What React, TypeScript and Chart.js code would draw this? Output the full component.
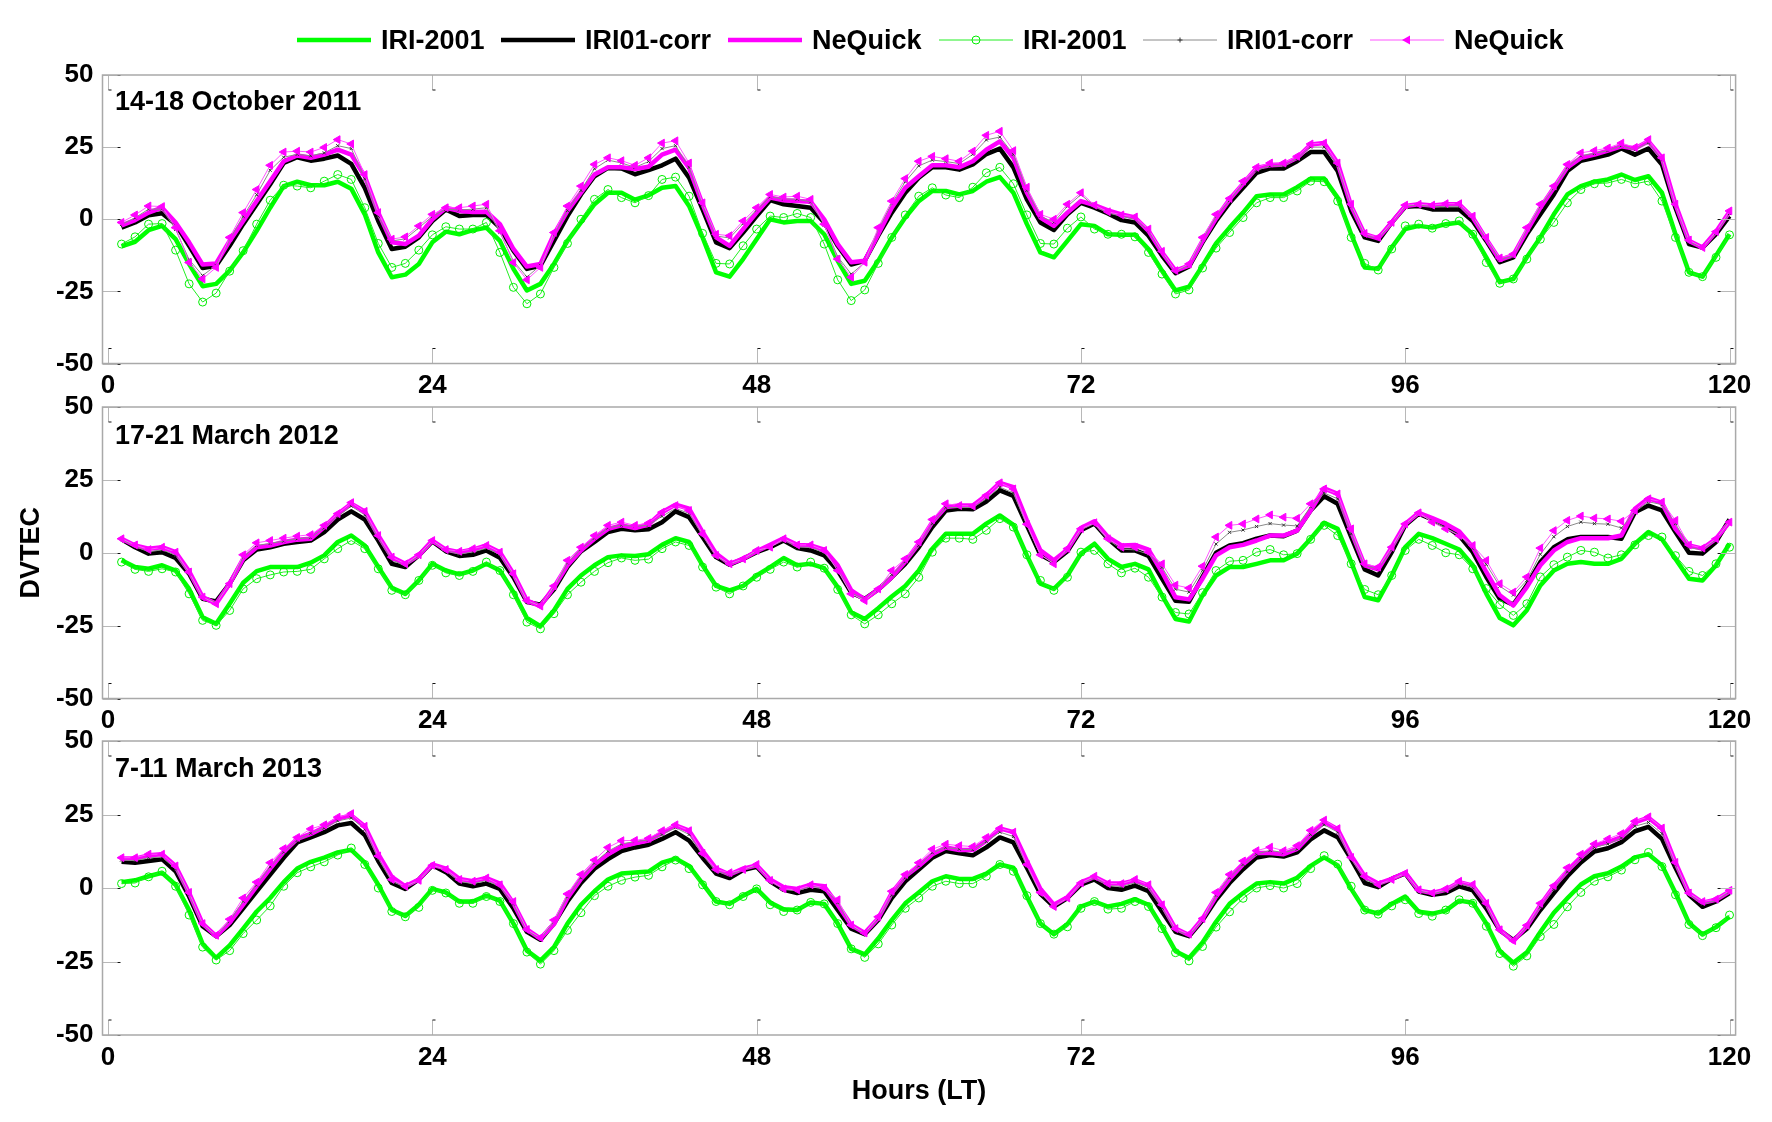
import React, { useEffect, useRef } from 'react';
import { Chart, registerables } from 'chart.js';

Chart.register(...registerables);

// ---------------- DATA ----------------
const HOURS: number[] = Array.from({ length: 120 }, (_, i) => i + 1);
const X_TICKS = [0, 24, 48, 72, 96, 120];
const Y_TICKS = [-50, -25, 0, 25, 50];
const SERIES_NAMES = ['IRI-2001', 'IRI01-corr', 'NeQuick', 'IRI-2001', 'IRI01-corr', 'NeQuick'];
const PANEL_TITLES = ['14-18 October 2011', '17-21 March 2012', '7-11 March 2013'];

// Panel 1: 14-18 October 2011
const P1_IRI = [
  -9.4, -7.8, -3.8, -2.3, -6.9, -15.5, -23.2, -22.4, -17.8, -11.5,
  -4.0, 4.0, 11.5, 13.0, 11.8, 11.8, 13.0, 10.6, 1.7, -11.5,
  -20.1, -19.2, -15.5, -8.0, -4.3, -5.2, -3.8, -2.9, -7.5, -17.2,
  -24.7, -22.4, -15.5, -7.5, -1.1, 5.2, 9.2, 9.2, 6.8, 8.3,
  10.9, 11.5, 4.6, -6.3, -18.4, -19.9, -13.8, -6.9, 0, -1.1,
  -0.6, -0.6, -5.2, -14.4, -22.4, -21.3, -14.4, -6.3, 0.6, 6.3,
  9.8, 9.8, 8.6, 9.8, 13.0, 14.6, 9.2, -1.7, -11.5, -13.2,
  -7.5, -1.7, -2.3, -5.2, -5.4, -5.4, -10.3, -17.8, -24.7, -23.4,
  -16.1, -8.4, -2.9, 2.3, 8.0, 8.6, 8.6, 11.1, 14.1, 14.1,
  7.5, -5.2, -16.7, -17.2, -9.8, -3.4, -2.3, -2.9, -1.7, -1.1,
  -5.2, -13.2, -21.8, -20.7, -13.2, -6.3, 1.7, 8.6, 11.5, 13.0,
  13.8, 15.5, 13.6, 14.9, 9.2, -5.2, -18.4, -19.9, -12.6, -5.2,
];
const P1_CORR = [
  -2.9, -1.1, 1.4, 2.1, -1.7, -9.2, -16.9, -16.1, -9.2, -1.7,
  5.2, 12.1, 19.5, 21.5, 20.3, 21.0, 22.1, 19.2, 10.9, -0.6,
  -10.3, -9.5, -6.3, -0.6, 3.4, 1.1, 1.5, 1.5, -2.9, -10.9,
  -17.2, -16.1, -7.5, 1.1, 8.6, 14.9, 17.8, 17.6, 15.6, 17.0,
  18.7, 21.0, 14.4, 3.4, -8.0, -10.0, -4.6, 1.1, 6.6, 5.2,
  4.6, 4.0, -1.1, -9.2, -15.7, -14.4, -5.7, 2.3, 9.2, 14.4,
  18.0, 18.0, 17.2, 19.0, 22.6, 24.5, 18.0, 6.9, -1.1, -3.7,
  1.7, 5.7, 4.0, 2.0, -0.3, -1.1, -5.7, -12.6, -18.7, -16.4,
  -8.0, -0.6, 5.7, 10.9, 16.1, 17.6, 17.6, 20.1, 23.3, 23.3,
  16.7, 2.9, -6.3, -7.5, -1.1, 4.3, 4.6, 3.4, 3.4, 3.4,
  -0.6, -7.5, -14.9, -13.2, -5.2, 1.7, 8.6, 16.7, 20.3, 21.3,
  22.4, 24.5, 22.4, 24.5, 19.0, 4.0, -8.6, -9.8, -5.2, 1.1,
];
const P1_NEQ = [
  -2.1, -0.3, 2.3, 4.0, -1.1, -8.0, -15.7, -15.3, -7.5, -0.6,
  6.3, 13.2, 20.1, 22.1, 21.3, 22.4, 24.1, 22.4, 14.9, 2.3,
  -8.0, -8.6, -5.7, 0, 4.0, 2.9, 2.5, 2.6, -1.7, -10.3,
  -16.4, -15.5, -5.2, 2.9, 9.2, 15.5, 18.0, 18.0, 17.4, 18.2,
  22.4, 24.1, 17.8, 5.2, -6.3, -9.2, -3.4, 2.3, 7.5, 6.6,
  6.3, 6.1, 0, -8.6, -14.9, -14.4, -5.2, 4.0, 10.9, 14.9,
  18.7, 18.7, 18.0, 20.1, 24.1, 27.0, 21.3, 9.2, 0.6, -2.3,
  2.3, 6.3, 4.9, 3.1, 1.7, 0.6, -4.0, -11.5, -17.8, -16.1,
  -7.5, 0.3, 6.9, 12.3, 17.8, 18.7, 19.0, 21.3, 25.9, 26.4,
  19.5, 4.6, -5.2, -6.6, -1.1, 4.6, 5.2, 4.8, 5.2, 5.2,
  0.6, -6.9, -14.1, -12.4, -4.0, 4.0, 10.9, 18.0, 21.3, 22.4,
  23.8, 25.3, 24.5, 27.0, 21.3, 5.2, -7.5, -9.8, -4.3, 2.6,
];
const P1_IRI_M = [
  -8.6, -6.1, -1.7, -1.5, -10.7, -22.4, -28.7, -25.6, -18.0, -10.9,
  -1.7, 6.6, 11.8, 11.5, 10.9, 13.2, 15.5, 13.8, 4.0, -8.4,
  -16.7, -15.3, -10.7, -5.4, -2.6, -3.4, -3.4, -1.1, -11.5, -23.6,
  -29.3, -25.9, -16.7, -8.4, 0, 6.9, 10.3, 7.5, 5.7, 8.2,
  13.8, 14.6, 8.0, -4.9, -15.3, -15.5, -9.2, -3.4, 1.1, 0.6,
  2.0, 0.6, -8.6, -21.0, -28.2, -24.5, -15.3, -6.3, 1.5, 8.0,
  10.9, 8.4, 7.5, 11.1, 16.1, 18.0, 12.3, 1.5, -8.4, -8.6,
  -3.1, 0.8, -3.4, -5.2, -5.2, -6.1, -11.5, -19.0, -25.9, -24.5,
  -16.9, -10.0, -4.6, 0.6, 5.7, 7.5, 7.5, 9.8, 13.2, 13.0,
  6.3, -6.3, -15.3, -17.6, -10.3, -2.3, -1.7, -3.1, -1.5, -0.6,
  -5.2, -15.0, -22.2, -20.7, -13.8, -6.9, -1.1, 5.7, 10.3, 12.3,
  12.6, 13.8, 12.3, 13.2, 6.3, -6.3, -18.4, -19.9, -13.2, -5.4,
];
const P1_CORR_M = [
  -1.8, 0.5, 3.5, 3.5, -3.5, -14.0, -19.5, -16.0, -7.0, 1.0,
  8.5, 17.0, 21.5, 22.5, 22.0, 23.0, 25.5, 24.5, 14.0, 1.0,
  -7.5, -6.8, -3.0, 1.0, 3.5, 3.2, 3.5, 4.0, -4.5, -14.5,
  -20.0, -16.0, -5.5, 3.0, 10.0, 17.5, 20.5, 19.5, 18.0, 20.0,
  24.5, 25.5, 18.0, 5.0, -5.8, -6.5, -1.5, 3.2, 7.8, 7.0,
  7.0, 6.0, -2.0, -13.0, -19.0, -15.0, -3.5, 5.5, 13.0, 18.5,
  20.5, 20.0, 19.3, 22.5, 27.5, 28.5, 22.5, 10.0, 1.0, -1.0,
  4.5, 8.5, 4.5, 2.2, 1.0, 0, -4.0, -11.5, -18.0, -15.8,
  -7.0, 1.0, 6.5, 12.5, 17.0, 18.5, 18.5, 21.0, 25.0, 25.0,
  18.5, 4.5, -5.5, -6.8, -1.3, 4.6, 5.0, 4.3, 4.5, 4.5,
  0.5, -6.8, -14.0, -12.8, -3.5, 4.5, 10.8, 18.0, 22.0, 22.8,
  23.8, 25.5, 24.0, 26.5, 20.5, 4.8, -7.8, -9.8, -4.8, 2.0,
];
const P1_NEQ_M = [
  -1.1, 1.5, 4.6, 4.4, -2.9, -15.0, -20.7, -16.7, -6.3, 2.3,
  10.3, 18.7, 23.3, 23.6, 23.3, 24.9, 27.6, 26.1, 15.5, 2.3,
  -6.9, -6.1, -2.3, 1.7, 4.0, 4.0, 4.6, 5.2, -4.0, -15.0,
  -21.0, -16.7, -4.6, 4.6, 11.5, 19.0, 21.3, 20.3, 18.7, 21.3,
  26.4, 27.2, 19.5, 5.7, -5.2, -5.7, -0.6, 4.0, 8.6, 7.7,
  8.0, 6.9, -1.7, -13.8, -20.1, -14.9, -2.9, 6.3, 14.1, 20.1,
  21.8, 21.0, 20.1, 23.6, 29.1, 30.5, 23.8, 11.1, 1.7, 0,
  5.2, 9.2, 4.9, 2.6, 1.5, 0.8, -3.4, -11.1, -17.8, -15.5,
  -6.3, 1.7, 7.2, 13.2, 18.0, 19.5, 19.5, 21.8, 26.1, 26.4,
  19.5, 5.2, -4.9, -6.3, -1.1, 4.9, 5.2, 4.9, 5.4, 5.4,
  1.1, -6.3, -13.4, -12.1, -2.9, 5.2, 11.5, 19.0, 23.0, 23.8,
  24.7, 26.4, 24.9, 27.6, 21.3, 5.2, -7.2, -9.8, -4.3, 2.9,
];

// Panel 2: 17-21 March 2012
const P2_IRI = [
  -2.6, -4.9, -5.5, -4.3, -6.1, -12.4, -22.1, -24.4, -17.5, -10.3,
  -6.3, -4.9, -4.9, -4.9, -3.4, -0.9, 3.7, 5.9, 2.5, -4.9,
  -12.0, -14.1, -9.5, -3.8, -6.1, -7.4, -6.1, -3.8, -6.1, -13.5,
  -22.4, -25.2, -19.8, -12.4, -7.8, -4.3, -1.5, -0.9, -1.1, -0.5,
  2.7, 5.0, 3.7, -4.3, -11.4, -12.9, -11.4, -7.8, -4.9, -1.8,
  -4.3, -3.8, -5.3, -11.8, -20.4, -22.7, -19.0, -15.0, -11.4, -6.1,
  1.4, 6.5, 6.5, 6.5, 10.0, 12.8, 9.6, -0.9, -10.6, -12.4,
  -7.8, -0.3, 3.1, -2.1, -4.9, -3.8, -5.7, -14.6, -22.7, -23.6,
  -14.6, -7.8, -4.9, -4.9, -3.8, -2.6, -2.6, -0.3, 4.8, 10.3,
  8.2, -3.2, -15.2, -16.3, -7.8, 1.9, 6.5, 5.0, 3.1, 1.1,
  -4.3, -14.0, -22.4, -24.9, -19.7, -11.2, -6.1, -3.8, -3.2, -3.8,
  -3.8, -2.1, 3.1, 7.1, 4.6, -2.1, -8.9, -9.5, -4.3, 3.1,
];
const P2_CORR = [
  4.6, 1.9, -0.3, 0.2, -1.8, -7.2, -15.8, -16.7, -10.6, -2.6,
  1.1, 1.9, 3.1, 3.7, 4.2, 7.1, 11.4, 14.2, 11.4, 4.2,
  -3.8, -4.9, -0.9, 3.9, 0.5, -1.1, -0.7, 0.8, -1.7, -8.4,
  -16.9, -17.8, -12.6, -4.9, 0.5, 3.7, 7.1, 8.2, 7.7, 8.1,
  10.5, 14.2, 12.2, 5.4, -1.5, -4.1, -2.1, 0.2, 1.9, 4.2,
  1.6, 0.8, -0.9, -6.1, -13.7, -15.8, -12.6, -8.4, -3.8, 1.9,
  8.8, 14.5, 15.1, 14.9, 17.6, 21.4, 19.5, 9.4, -0.7, -3.2,
  0.5, 7.7, 10.0, 4.8, 0.8, 0.8, -1.1, -8.9, -16.5, -16.8,
  -8.3, 0, 2.5, 3.3, 4.8, 5.9, 5.7, 7.6, 14.5, 19.4,
  16.8, 5.4, -5.7, -7.8, 0.2, 9.4, 13.4, 11.4, 9.1, 5.9,
  0.2, -8.3, -15.8, -17.8, -11.2, -3.2, 1.9, 4.6, 5.4, 5.4,
  5.4, 4.8, 13.9, 16.2, 14.5, 7.1, 0, -0.3, 3.7, 11.4,
];
const P2_NEQ = [
  4.8, 2.5, 1.4, 1.9, 0.2, -6.4, -15.2, -17.5, -10.6, -2.1,
  1.9, 2.5, 3.7, 4.5, 4.8, 8.8, 13.3, 16.8, 14.2, 5.9,
  -1.5, -3.8, -0.9, 4.2, 1.1, 0.2, 1.1, 2.5, 0.2, -7.2,
  -16.4, -18.3, -11.8, -4.3, 0.8, 4.8, 8.2, 9.4, 8.5, 9.7,
  13.9, 16.5, 15.1, 7.1, -0.3, -3.8, -2.1, 0.5, 2.7, 5.0,
  2.7, 2.5, 1.1, -4.3, -12.9, -16.0, -12.6, -8.4, -3.0, 3.1,
  10.5, 15.7, 16.2, 16.2, 19.7, 24.0, 22.5, 11.1, 0.8, -2.6,
  1.1, 8.5, 10.8, 5.4, 2.5, 2.7, 1.1, -6.6, -15.3, -16.0,
  -8.9, -0.9, 1.9, 2.7, 4.2, 5.9, 5.9, 7.6, 14.5, 22.1,
  20.2, 7.3, -4.3, -5.7, 1.9, 9.9, 13.7, 11.9, 9.9, 7.3,
  1.9, -6.6, -14.6, -18.1, -11.8, -4.3, 0.8, 3.7, 5.0, 5.0,
  5.0, 5.9, 15.1, 18.7, 17.1, 8.2, 2.5, 1.4, 4.8, 10.5,
];
const P2_IRI_M = [
  -3.2, -5.7, -6.4, -5.5, -6.6, -14.1, -23.2, -24.9, -19.8, -12.4,
  -8.9, -7.6, -6.6, -6.4, -5.7, -2.1, 1.4, 4.2, 1.4, -5.5,
  -12.9, -14.4, -9.5, -4.3, -6.9, -7.8, -6.4, -3.2, -6.1, -14.4,
  -23.8, -26.1, -20.9, -14.4, -10.1, -6.4, -3.4, -1.8, -2.6, -2.2,
  1.4, 3.7, 2.5, -4.9, -11.8, -14.1, -11.4, -8.4, -5.7, -3.2,
  -4.9, -3.2, -5.3, -12.6, -21.3, -24.4, -21.3, -17.5, -14.1, -8.4,
  0.2, 5.0, 5.0, 4.6, 7.7, 11.7, 8.8, -0.7, -9.5, -12.9,
  -8.4, 0.2, 0.8, -3.8, -6.9, -5.3, -8.4, -15.2, -20.5, -21.0,
  -13.7, -6.1, -2.9, -2.6, 0.2, 1.1, -0.7, -0.3, 4.6, 9.4,
  5.9, -3.8, -12.6, -14.4, -7.8, 0.8, 4.6, 2.5, 0, -0.7,
  -5.5, -12.3, -17.8, -21.5, -17.5, -8.3, -4.1, -1.5, 0.8, 0.2,
  -1.8, -0.7, 2.7, 5.9, 5.4, -1.0, -6.4, -7.8, -3.8, 1.9,
];
const P2_CORR_M = [
  4.6, 2.2, 0.3, 1.0, -0.8, -7.0, -15.5, -17.0, -10.6, -1.5,
  2.5, 3.2, 4.0, 4.8, 5.2, 8.5, 12.5, 16.0, 13.0, 5.0,
  -2.5, -4.5, -1.0, 4.0, 0.8, -0.5, 0.3, 1.5, -0.5, -7.8,
  -16.7, -18.0, -12.0, -3.5, 1.2, 5.0, 8.5, 9.5, 9.0, 9.5,
  12.5, 15.2, 13.5, 6.0, -1.2, -4.0, -2.0, 0.5, 2.0, 4.5,
  2.0, 1.8, 0, -5.5, -13.8, -16.0, -12.6, -7.5, -3.0, 2.5,
  10.0, 15.5, 15.5, 15.5, 18.5, 22.5, 20.5, 9.5, -0.7, -3.5,
  1.0, 8.0, 10.0, 4.5, 1.2, 1.0, -0.5, -5.0, -12.5, -13.5,
  -6.0, 3.0, 7.0, 7.8, 9.0, 10.0, 9.5, 9.2, 15.8, 20.5,
  18.5, 6.5, -4.5, -5.5, 1.0, 9.6, 13.5, 11.0, 8.5, 6.0,
  1.5, -4.0, -11.5, -14.5, -9.5, -0.5, 5.5, 9.0, 10.5, 10.0,
  9.8, 8.5, 14.0, 17.5, 16.5, 10.0, 1.8, 1.0, 4.5, 11.0,
];
const P2_NEQ_M = [
  4.8, 2.7, 1.1, 1.9, 0.2, -6.6, -15.2, -17.5, -10.6, -0.7,
  3.4, 4.2, 5.0, 5.7, 6.2, 9.4, 13.4, 17.2, 14.2, 5.9,
  -1.5, -3.8, -0.7, 4.2, 1.1, 0.5, 1.4, 2.5, 0.2, -7.2,
  -16.4, -18.3, -11.4, -2.6, 1.9, 5.9, 9.4, 10.5, 9.4, 10.2,
  13.9, 16.2, 14.5, 6.5, -0.9, -3.8, -2.1, 0.8, 1.9, 4.8,
  2.7, 2.7, 0.8, -6.1, -14.1, -16.4, -12.4, -6.1, -2.1, 3.7,
  11.4, 16.8, 16.2, 16.0, 19.7, 24.0, 21.9, 9.8, -0.7, -3.8,
  1.4, 8.2, 10.3, 4.8, 1.9, 1.9, 0.2, -3.8, -11.1, -12.1,
  -4.6, 5.4, 9.4, 9.9, 11.6, 13.0, 12.2, 11.8, 16.8, 21.9,
  20.2, 8.2, -3.8, -4.9, 1.9, 9.9, 13.7, 10.5, 8.2, 5.9,
  2.5, -2.6, -10.6, -13.5, -8.3, 1.6, 7.6, 11.1, 12.6, 11.9,
  11.6, 10.8, 14.5, 18.5, 17.4, 11.1, 2.7, 1.6, 4.8, 10.5,
];

// Panel 3: 7-11 March 2013
const P3_IRI = [
  2.0, 2.6, 4.0, 5.2, 1.1, -7.5, -19.0, -23.8, -19.5, -13.8,
  -8.0, -3.4, 2.0, 6.6, 8.9, 10.3, 12.1, 13.0, 8.6, 1.1,
  -7.5, -9.5, -5.7, -0.3, -1.5, -4.6, -4.6, -2.6, -4.3, -12.1,
  -21.3, -24.7, -20.1, -12.1, -5.7, -1.1, 2.9, 4.9, 5.3, 5.6,
  8.6, 10.0, 7.5, 1.5, -4.6, -5.4, -2.6, -0.3, -4.9, -7.2,
  -7.5, -4.9, -5.4, -12.1, -20.7, -22.6, -17.2, -10.9, -5.2, -1.5,
  2.3, 4.0, 3.1, 3.1, 4.9, 8.0, 6.9, -2.9, -12.1, -15.7,
  -12.3, -6.3, -4.6, -6.3, -5.4, -3.8, -5.7, -13.2, -21.5, -23.8,
  -18.5, -11.5, -5.4, -1.7, 1.5, 2.0, 1.5, 3.5, 7.5, 10.4,
  7.7, -0.3, -7.5, -8.7, -5.4, -2.9, -8.1, -8.7, -7.7, -4.3,
  -5.0, -12.1, -21.4, -25.4, -21.9, -15.0, -8.4, -3.5, 1.2, 4.0,
  5.0, 7.3, 10.4, 11.5, 7.7, -1.7, -11.9, -15.8, -13.3, -9.8,
];
const P3_CORR = [
  8.9, 8.6, 9.2, 9.8, 5.7, -2.9, -13.0, -16.4, -12.6, -6.9,
  -1.1, 4.6, 10.3, 15.5, 17.2, 19.0, 21.3, 22.1, 18.0, 9.2,
  1.7, -0.3, 2.9, 7.7, 5.4, 1.5, 0.6, 1.5, -0.3, -6.9,
  -14.9, -17.6, -12.1, -4.6, 1.7, 6.6, 9.8, 12.6, 13.8, 14.7,
  16.7, 19.0, 16.1, 10.3, 4.9, 3.4, 6.1, 7.2, 2.3, -0.6,
  -1.7, -0.6, -1.1, -7.5, -13.8, -15.7, -10.9, -3.4, 2.3, 6.3,
  10.3, 12.6, 11.8, 11.1, 13.8, 17.2, 15.5, 6.9, -2.0, -6.3,
  -3.4, 1.1, 2.9, 0, -0.6, 0.8, -1.1, -8.0, -14.9, -16.4,
  -11.0, -4.0, 1.7, 6.4, 10.4, 11.2, 10.7, 12.1, 16.5, 19.6,
  17.3, 9.8, 1.7, 0.3, 3.1, 5.0, -1.2, -2.3, -1.7, 0.6,
  -0.8, -6.9, -14.4, -17.7, -13.9, -7.5, -1.7, 4.0, 8.7, 12.4,
  13.5, 15.6, 19.3, 20.8, 16.7, 6.9, -2.3, -6.4, -4.6, -1.7,
];
const P3_NEQ = [
  10.0, 10.0, 11.1, 11.5, 7.5, -1.7, -12.1, -16.4, -11.8, -5.7,
  0.6, 6.6, 12.3, 16.7, 18.4, 20.7, 23.6, 24.7, 21.0, 11.5,
  3.8, 0.6, 2.9, 8.0, 6.6, 3.1, 2.3, 3.4, 1.5, -5.2,
  -14.1, -17.2, -12.3, -3.4, 3.1, 8.0, 11.5, 14.1, 15.2, 16.1,
  18.7, 21.3, 19.5, 12.6, 6.6, 4.6, 6.6, 7.7, 2.9, 0.3,
  -0.3, 1.1, 0.6, -5.7, -12.6, -15.3, -10.3, -1.7, 4.0, 7.5,
  11.5, 13.8, 12.9, 12.9, 16.1, 20.3, 19.0, 9.2, -0.3, -5.7,
  -3.1, 1.9, 3.8, 1.5, 1.5, 2.6, 0.8, -5.7, -13.8, -16.0,
  -10.4, -2.9, 3.1, 8.1, 11.9, 11.9, 11.5, 13.3, 18.1, 22.5,
  20.0, 11.0, 4.0, 1.5, 3.1, 5.2, -0.8, -1.7, -0.6, 2.0,
  0.8, -5.2, -14.2, -18.1, -13.0, -5.8, 0.6, 5.8, 10.4, 14.4,
  15.6, 17.3, 22.3, 23.9, 20.2, 8.7, -1.7, -5.0, -4.0, -1.2,
];
const P3_IRI_M = [
  1.5, 1.7, 3.8, 5.7, 0.6, -9.2, -20.1, -24.5, -21.3, -15.5,
  -10.9, -6.1, 0.6, 5.2, 7.2, 8.9, 11.2, 13.6, 8.0, 0,
  -8.0, -9.8, -6.6, -0.8, -1.7, -5.2, -5.2, -2.9, -4.6, -12.1,
  -21.8, -25.9, -21.3, -14.4, -8.4, -2.6, 0.6, 2.6, 3.7, 4.3,
  7.2, 9.5, 6.6, 1.1, -4.6, -5.7, -2.9, -0.3, -5.7, -8.0,
  -7.5, -4.9, -5.4, -12.1, -20.7, -23.6, -19.0, -12.6, -6.9, -3.4,
  0.6, 2.3, 1.5, 1.5, 4.0, 8.0, 5.7, -2.6, -12.1, -15.7,
  -13.2, -6.9, -4.6, -7.2, -6.9, -4.6, -6.3, -13.8, -22.0, -24.8,
  -19.9, -13.3, -8.1, -3.5, 0, 0.8, 0, 1.5, 6.6, 11.0,
  8.1, 0.6, -7.5, -8.9, -6.1, -4.0, -8.7, -9.6, -7.5, -4.0,
  -5.2, -13.0, -22.3, -26.6, -23.1, -16.5, -12.4, -6.4, -1.5, 2.3,
  3.8, 6.1, 9.6, 12.1, 7.3, -2.3, -12.4, -16.2, -13.5, -9.2,
];
const P3_CORR_M = [
  9.5, 9.3, 10.3, 10.5, 6.5, -2.2, -12.6, -16.2, -11.3, -4.5,
  1.0, 7.2, 12.2, 16.2, 18.6, 20.4, 22.8, 23.8, 20.0, 10.0,
  2.3, 0.2, 2.6, 7.8, 6.0, 2.2, 1.5, 2.5, 0.5, -5.5,
  -14.5, -17.2, -11.5, -3.0, 3.5, 8.5, 12.5, 15.0, 15.8, 16.3,
  18.2, 20.5, 18.2, 11.2, 5.7, 4.4, 6.2, 7.6, 2.5, -0.5,
  -1.0, 0.5, 0, -5.0, -13.0, -15.5, -10.5, -2.5, 3.5, 7.5,
  12.0, 13.8, 13.2, 13.0, 15.8, 19.0, 17.5, 7.5, -1.7, -6.2,
  -3.3, 1.5, 3.5, 0.8, 0.5, 1.8, 0.2, -6.8, -14.3, -16.2,
  -10.8, -2.5, 3.5, 8.0, 11.5, 12.8, 12.0, 13.2, 18.2, 21.5,
  19.0, 10.0, 3.0, 0.8, 3.0, 5.0, -1.0, -2.0, -1.0, 1.5,
  0.2, -6.0, -14.3, -17.8, -13.2, -6.5, -0.5, 5.5, 10.0, 13.8,
  15.0, 17.0, 21.0, 22.3, 18.5, 7.8, -2.0, -5.5, -4.3, -1.3,
];
const P3_NEQ_M = [
  10.3, 10.3, 11.5, 11.5, 7.5, -1.5, -12.1, -16.1, -10.6, -3.4,
  2.0, 8.6, 13.4, 17.2, 20.1, 21.5, 24.1, 25.3, 21.0, 10.9,
  2.9, 0.6, 2.6, 7.7, 6.3, 2.9, 2.3, 3.4, 1.1, -4.6,
  -14.1, -16.9, -10.9, -2.0, 4.6, 9.5, 13.8, 16.1, 16.2, 16.9,
  19.5, 21.5, 19.5, 11.8, 6.3, 5.2, 6.3, 8.0, 2.6, -0.3,
  -0.6, 1.1, 0, -4.0, -12.6, -15.3, -9.8, -1.1, 4.6, 8.6,
  13.2, 14.9, 14.4, 14.1, 17.2, 20.3, 19.0, 8.0, -1.5, -6.3,
  -3.4, 1.7, 4.0, 1.5, 1.5, 2.9, 1.1, -5.7, -13.8, -15.7,
  -10.4, -1.5, 4.6, 9.2, 12.7, 13.9, 12.7, 14.4, 19.6, 23.1,
  20.2, 10.4, 4.0, 1.2, 2.9, 5.0, -0.6, -1.7, -0.3, 2.3,
  1.2, -5.2, -14.2, -17.9, -12.7, -5.2, 0.8, 6.9, 11.5, 15.0,
  16.7, 18.5, 22.7, 24.2, 20.4, 8.7, -1.7, -4.6, -3.8, -0.8,
];

const PANEL_DATA = [
  [P1_IRI, P1_CORR, P1_NEQ, P1_IRI_M, P1_CORR_M, P1_NEQ_M],
  [P2_IRI, P2_CORR, P2_NEQ, P2_IRI_M, P2_CORR_M, P2_NEQ_M],
  [P3_IRI, P3_CORR, P3_NEQ, P3_IRI_M, P3_CORR_M, P3_NEQ_M],
];

// ---------------- STYLE / LAYOUT ----------------
const FONT = "'Liberation Sans', Arial, Helvetica, sans-serif";
const W = 1772;
const Y_AXIS_W = 90;
const PAD_LEFT = 12.5;
const PAD_RIGHT = 36.4;
const LAYOUT = [
  { top: 0, height: 400, padTop: 75, xAxisH: 36.5, padBottom: 0, titleY: 27.5 },
  { top: 380, height: 355, padTop: 27, xAxisH: 36.5, padBottom: 0, titleY: 30 },
  { top: 715, height: 407, padTop: 26, xAxisH: 73.2, padBottom: 13.8, titleY: 29 },
];

const STYLES = [
  { color: '#00ff00', width: 4.5, kind: 'solid' },
  { color: '#000000', width: 4.5, kind: 'solid' },
  { color: '#ff00ff', width: 4.5, kind: 'solid' },
  { color: '#22ee22', width: 1, kind: 'circle', markerColor: '#00ee00' },
  { color: '#8a8a8a', width: 1, kind: 'star', markerColor: '#333333' },
  { color: '#ff55ff', width: 1, kind: 'triangle', markerColor: '#ff00ff' },
];
const DRAW_ORDER = [5, 4, 3, 2, 1, 0];
const LEGEND_X = [297, 501, 728, 939, 1143, 1370];

function drawMarker(ctx: CanvasRenderingContext2D, kind: string, x: number, y: number, color: string) {
  ctx.save();
  if (kind === 'circle') {
    ctx.strokeStyle = color;
    ctx.lineWidth = 1;
    ctx.beginPath();
    ctx.arc(x, y, 4, 0, Math.PI * 2);
    ctx.stroke();
  } else if (kind === 'triangle') {
    ctx.fillStyle = color;
    ctx.beginPath();
    ctx.moveTo(x - 5, y);
    ctx.lineTo(x + 3, y - 4.5);
    ctx.lineTo(x + 3, y + 4.5);
    ctx.closePath();
    ctx.fill();
  } else if (kind === 'star') {
    ctx.strokeStyle = color;
    ctx.lineWidth = 1;
    ctx.beginPath();
    ctx.moveTo(x - 2.5, y); ctx.lineTo(x + 2.5, y);
    ctx.moveTo(x, y - 2.5); ctx.lineTo(x, y + 2.5);
    ctx.stroke();
  }
  ctx.restore();
}

const legendPlugin = {
  id: 'customLegend',
  afterDraw(chart: any) {
    const ctx: CanvasRenderingContext2D = chart.ctx;
    ctx.save();
    SERIES_NAMES.forEach((name, i) => {
      const st = STYLES[i];
      const x0 = LEGEND_X[i];
      const y = 40;
      ctx.strokeStyle = st.color;
      ctx.lineWidth = st.width;
      ctx.beginPath();
      ctx.moveTo(x0, y);
      ctx.lineTo(x0 + 74, y);
      ctx.stroke();
      if (st.kind !== 'solid') drawMarker(ctx, st.kind, x0 + 37, y, (st as any).markerColor);
      ctx.fillStyle = '#000';
      ctx.font = `bold 27px ${FONT}`;
      ctx.textAlign = 'left';
      ctx.textBaseline = 'middle';
      ctx.fillText(name, x0 + 84, 42);
    });
    ctx.restore();
  },
};

const framePlugin = {
  id: 'frame',
  afterDatasetsDraw(chart: any, _args: any, opts: any) {
    const ctx: CanvasRenderingContext2D = chart.ctx;
    const { left, right, top, bottom } = chart.chartArea;
    const x = chart.scales.x;
    const y = chart.scales.y;
    ctx.save();
    const seg = (x1: number, y1: number, x2: number, y2: number) => {
      ctx.beginPath(); ctx.moveTo(x1, y1); ctx.lineTo(x2, y2); ctx.stroke();
    };
    ctx.lineWidth = 1;
    // y tick brackets (grey stem from the frame, dark tip)
    Y_TICKS.forEach((v) => {
      const py = Math.round(y.getPixelForValue(v)) + 0.5;
      ctx.strokeStyle = '#b8b8b8';
      seg(left, py, left + 15, py);
      seg(right - 15, py, right, py);
      ctx.strokeStyle = '#111';
      seg(left + 15, py, left + 18, py);
      seg(right - 18, py, right - 15, py);
    });
    // x tick brackets
    X_TICKS.forEach((v) => {
      const px = Math.round(x.getPixelForValue(v)) + 0.5;
      ctx.strokeStyle = '#b8b8b8';
      seg(px, top, px, top + 15);
      seg(px, bottom - 15, px, bottom);
      ctx.strokeStyle = '#111';
      seg(px, top + 15, px + 3, top + 15);
      seg(px, bottom - 15, px + 3, bottom - 15);
    });
    // frame
    ctx.strokeStyle = '#a9a9a9';
    ctx.lineWidth = 1.5;
    ctx.strokeRect(left, top, right - left, bottom - top);
    // panel title
    ctx.fillStyle = '#000';
    ctx.font = `bold 27px ${FONT}`;
    ctx.textAlign = 'left';
    ctx.textBaseline = 'middle';
    ctx.fillText(opts.title, 115, top + opts.titleY);
    ctx.restore();
  },
};

function buildDatasets(series: number[][]) {
  return series.map((vals, i) => {
    const st: any = STYLES[i];
    const base: any = {
      label: SERIES_NAMES[i],
      data: vals.map((v, k) => ({ x: HOURS[k], y: v })),
      borderColor: st.color,
      borderWidth: st.width,
      backgroundColor: st.color,
      fill: false,
      tension: 0,
      order: DRAW_ORDER[i],
    };
    if (st.kind === 'solid') {
      base.pointRadius = 0;
      base.borderJoinStyle = 'round';
    } else if (st.kind === 'circle') {
      base.pointStyle = 'circle';
      base.pointRadius = 4;
      base.pointBorderWidth = 1;
      base.pointBorderColor = st.markerColor;
      base.pointBackgroundColor = 'rgba(0,0,0,0)';
    } else if (st.kind === 'star') {
      base.pointStyle = 'crossRot';
      base.pointRadius = 2.2;
      base.pointBorderWidth = 1;
      base.pointBorderColor = st.markerColor;
      base.pointBackgroundColor = st.markerColor;
    } else if (st.kind === 'triangle') {
      base.pointStyle = 'triangle';
      base.pointRotation = -90;
      base.pointRadius = 4.5;
      base.pointBorderWidth = 1;
      base.pointBorderColor = st.markerColor;
      base.pointBackgroundColor = st.markerColor;
    }
    return base;
  });
}

function buildConfig(p: number): any {
  const L = LAYOUT[p];
  const tickFont = { family: FONT, size: 26, weight: 'bold' as const, lineHeight: 1.2 };
  const titleFont = { family: FONT, size: 27, weight: 'bold' as const, lineHeight: 1.2 };
  const plugins: any[] = [framePlugin];
  if (p === 0) plugins.push(legendPlugin);
  return {
    type: 'line',
    data: { datasets: buildDatasets(PANEL_DATA[p]) },
    plugins,
    options: {
      responsive: false,
      maintainAspectRatio: false,
      animation: false,
      devicePixelRatio: 1,
      layout: {
        padding: { left: PAD_LEFT, right: PAD_RIGHT, top: L.padTop, bottom: L.padBottom },
      },
      plugins: {
        legend: { display: false },
        tooltip: { enabled: false },
        frame: { title: PANEL_TITLES[p], titleY: L.titleY },
      },
      scales: {
        x: {
          type: 'linear',
          min: -0.41,
          max: 120.45,
          afterBuildTicks: (s: any) => { s.ticks = X_TICKS.map((v) => ({ value: v })); },
          afterFit: (s: any) => { s.height = L.xAxisH; },
          ticks: {
            font: tickFont,
            color: '#000',
            padding: 7,
            maxRotation: 0,
            autoSkip: false,
            callback: (v: any) => String(v),
          },
          grid: { display: false, drawTicks: false },
          border: { display: false },
          title: {
            display: p === 2,
            text: 'Hours (LT)',
            font: titleFont,
            color: '#000',
            padding: { top: 0, bottom: 0 },
          },
        },
        y: {
          type: 'linear',
          min: -50,
          max: 50,
          afterBuildTicks: (s: any) => { s.ticks = Y_TICKS.map((v) => ({ value: v })); },
          afterFit: (s: any) => { s.width = Y_AXIS_W; },
          ticks: {
            font: tickFont,
            color: '#000',
            padding: 9,
            callback: (v: any) => String(v),
          },
          grid: { display: false, drawTicks: false },
          border: { display: false },
          title: {
            display: p === 1,
            text: 'DVTEC',
            font: titleFont,
            color: '#000',
            padding: { top: 3, bottom: 0 },
          },
        },
      },
    },
  };
}

export default function App() {
  const r0 = useRef<HTMLCanvasElement>(null);
  const r1 = useRef<HTMLCanvasElement>(null);
  const r2 = useRef<HTMLCanvasElement>(null);
  const refs = [r0, r1, r2];

  useEffect(() => {
    Chart.defaults.font.family = FONT;
    const charts = refs.map((r, p) => new Chart(r.current as HTMLCanvasElement, buildConfig(p)));
    return () => charts.forEach((c) => c.destroy());
  }, []);

  return (
    <div style={{ position: 'absolute', left: 0, top: 0, width: W, height: 1122, background: '#fff', overflow: 'hidden' }}>
      {LAYOUT.map((L, p) => (
        <canvas
          key={p}
          ref={refs[p]}
          width={W}
          height={L.height}
          style={{ position: 'absolute', left: 0, top: L.top, width: W, height: L.height }}
        />
      ))}
    </div>
  );
}
